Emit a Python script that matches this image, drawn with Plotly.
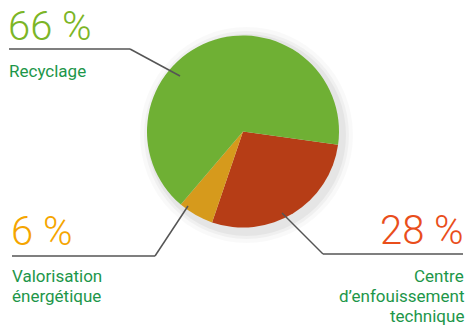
import plotly.graph_objects as go

# Data
categories = ["Centre d’enfouissement technique", "Valorisation énergétique", "Recyclage"]
values = [28, 6, 66]
slice_colors = ["#b63d16", "#d69a1c", "#6fb034"]

W, H = 468, 327

def px(x):
    return x / W

def py(y):
    return 1 - y / H

fig = go.Figure()

# soft shadow behind the disc
for grow, alpha in [(10, 0.025), (6, 0.035), (3, 0.045)]:
    fig.add_shape(type="circle", xref="paper", yref="paper",
                  x0=px(150 - grow), x1=px(343 + grow), y0=py(37 - grow), y1=py(233 + grow),
                  fillcolor=f"rgba(0,0,0,{alpha})", line=dict(width=0), layer="below")

fig.add_trace(go.Pie(
    labels=categories,
    values=values,
    sort=False,
    direction="clockwise",
    rotation=98,
    marker=dict(colors=slice_colors, line=dict(width=0)),
    textinfo="none",
    hoverinfo="label+percent",
    showlegend=False,
    domain=dict(x=[px(147), px(339)], y=[py(229), py(34)]),
))

line_col = "#555555"
def seg(x0, y0, x1, y1):
    fig.add_shape(type="line", xref="paper", yref="paper",
                  x0=px(x0), y0=py(y0), x1=px(x1), y1=py(y1),
                  line=dict(color=line_col, width=1.5), layer="above")

# leader lines
seg(9, 49, 130, 49); seg(130, 49, 180, 76)
seg(12, 256, 155, 256); seg(155, 256, 188, 206)
seg(323, 254, 463, 254); seg(323, 254, 282, 213)

num_font = dict(family="Roboto", size=40, weight=300)
lab_font = dict(family="Roboto", size=17, color="#1d9649")
pct_colors = {"Recyclage": "#7cb526", "Valorisation énergétique": "#f5a500",
              "Centre d’enfouissement technique": "#e94e1b"}

def ann(text, x, y, xanchor, font):
    fig.add_annotation(text=text, xref="paper", yref="paper", x=px(x), y=py(y),
                       xanchor=xanchor, yanchor="middle", showarrow=False,
                       font=font, borderpad=0)

# numbers
ann(f"{values[2]} %", 7, 27, "left", dict(num_font, color=pct_colors[categories[2]]))
ann(f"{values[1]} %", 10, 231, "left", dict(num_font, color=pct_colors[categories[1]]))
ann(f"{values[0]} %", 465, 230, "right", dict(num_font, color=pct_colors[categories[0]]))

# category labels
ann("Recyclage", 8, 71, "left", lab_font)
ann("Valorisation", 11, 276, "left", lab_font)
ann("énergétique", 11, 296, "left", lab_font)
ann("Centre", 465, 276, "right", lab_font)
ann("d’enfouissement", 465, 296, "right", lab_font)
ann("technique", 465, 316, "right", lab_font)

fig.update_layout(width=W, height=H, margin=dict(l=0, r=0, t=0, b=0),
                  paper_bgcolor="white", plot_bgcolor="white")

fig.write_html("out.html")
